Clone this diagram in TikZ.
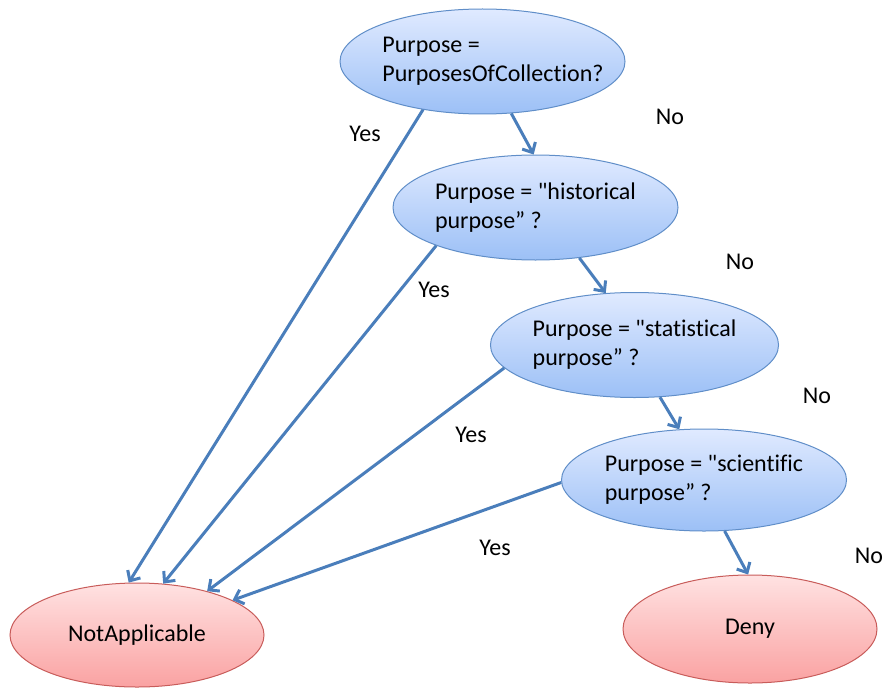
\documentclass[tikz,border=0pt]{standalone}
\usepackage{fontspec}
\setmainfont{Carlito}[Ligatures={TeXOff,NoCommon}]
\usetikzlibrary{arrows.meta,shapes.geometric}

\definecolor{qtop}{RGB}{224,234,255}
\definecolor{qbot}{RGB}{156,192,246}
\definecolor{qline}{RGB}{96,142,200}
\definecolor{rtop}{RGB}{255,226,226}
\definecolor{rbot}{RGB}{250,162,162}
\definecolor{rline}{RGB}{200,92,90}
\definecolor{flow}{RGB}{74,126,187}

\tikzset{
  question/.style={ellipse, draw=qline, line width=1pt, top color=qtop, bottom color=qbot,
    minimum width=285pt, minimum height=105pt, inner sep=0pt, align=left},
  outcome/.style={ellipse, draw=rline, line width=1pt, top color=rtop, bottom color=rbot,
    minimum width=254pt, minimum height=106pt, inner sep=0pt},
  flowarrow/.style={draw=flow, line width=3pt, -{Straight Barb[length=8pt,width=15pt]}},
  answer/.style={inner sep=0pt}
}

\begin{document}
\begin{tikzpicture}[x=1pt,y=-1pt,
  every node/.style={font=\fontsize{24}{29}\selectfont}]
\useasboundingbox (0,0) rectangle (885,690);

% decision nodes
\node[question] (q1) at (482.5,61.5) {};
\node[align=left, inner sep=0pt] (q1text) at (493,61.5) {Purpose =\\PurposesOfCollection?};
\node[question] (q2) at (535.5,207.5) {Purpose = "historical\\purpose” ?};
\node[question] (q3) at (634.5,345) {Purpose = "statistical\\purpose” ?};
\node[question, minimum height=102pt] (q4) at (704,480) {Purpose = "scientific\\purpose” ?};

% results
\node[outcome, minimum height=104pt] (na) at (137,635) {NotApplicable};
\node[outcome, minimum height=108pt] (deny) at (750,629) {Deny};

% "Yes" branches
\draw[flowarrow] (q1.219.7) -- (na.99.8);
\draw[flowarrow] (q2.201.6) -- (na.63.4);
\draw[flowarrow] (q3.190.9) -- (na.32.3);
\draw[flowarrow] (q4.181.2) -- (na.20.6);

% "No" branches
\draw[flowarrow] (q1.299.7) -- (q2.92.6);
\draw[flowarrow] (q2.311.1) -- (q3.119.6);
\draw[flowarrow] (q3.296.6) -- (q4.116.6);
\draw[flowarrow] (q4.292.5) -- (deny.92);

% branch labels
\node[answer] (y1) at (365,134) {Yes};
\node[answer] (y2) at (434,290) {Yes};
\node[answer] (y3) at (471,435) {Yes};
\node[answer] (y4) at (495,548) {Yes};
\node[answer] (n1) at (670,117) {No};
\node[answer] (n2) at (740,262) {No};
\node[answer] (n3) at (817,396) {No};
\node[answer] (n4) at (869,556) {No};
\end{tikzpicture}
\end{document}
